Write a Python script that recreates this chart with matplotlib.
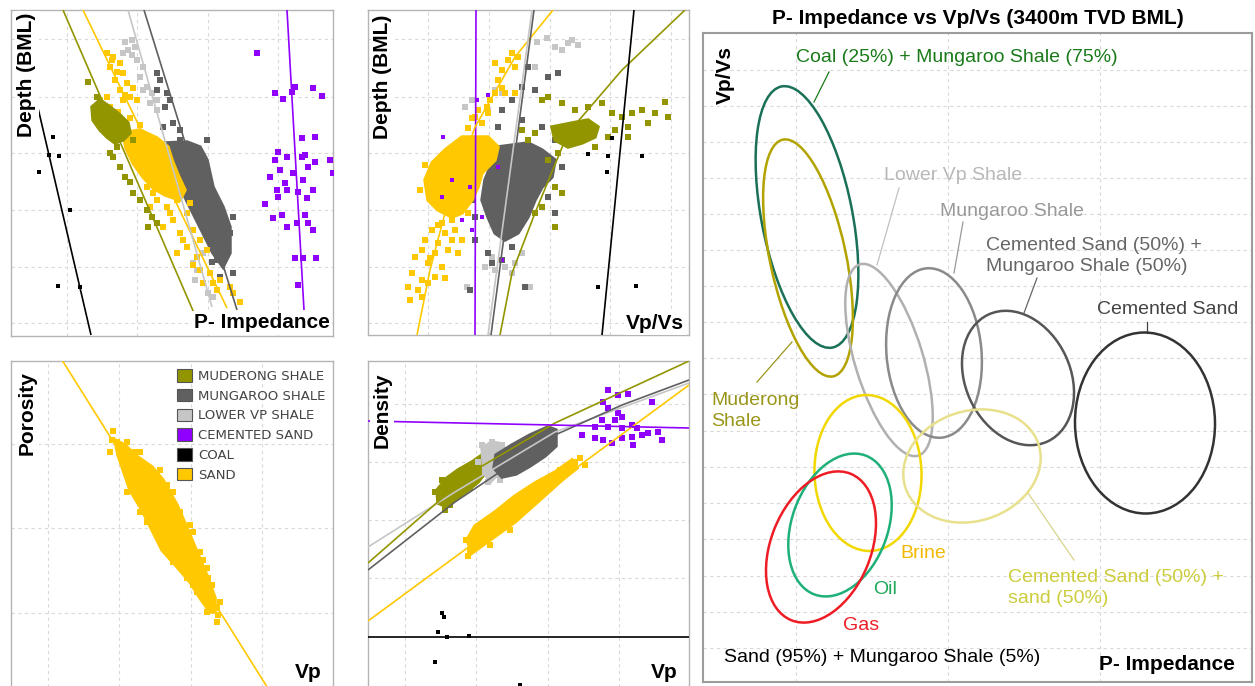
import matplotlib
matplotlib.use("Agg")
import matplotlib.pyplot as plt
from matplotlib.patches import Ellipse, Polygon, Patch

plt.rcParams['font.family'] = ['Liberation Sans', 'DejaVu Sans']

W, H = 1255, 686

# colours of the lithologies
OLIVE = '#939500'
DGREY = '#606060'
LGREY = '#c6c6c6'
PURPLE = '#9000ff'
BLACK = '#000000'
SAND = '#ffc800'

# ---------------------------------------------------------------- panel A
# depth vs P-impedance (no tick labels shown)
A_GRID_X = [67, 137, 208, 278]
A_GRID_Y = [39, 97, 153, 210, 267, 323]
A_COAL_LINE = [(38, 108), (91, 335)]
A_MUD_LINE = [(63, 10), (194, 313)]
A_SAND_LINE = [(83, 10), (227, 308)]
A_LVP_LINE = [(128, 10), (212, 307)]
A_MUNG_LINE = [(144, 10), (237, 310)]
A_CEM_LINE = [(287, 10), (304, 310)]

A_LVP_PTS = [(125, 42), (132, 40), (135, 47), (128, 50), (123, 53), (132, 55), (137, 60),
             (143, 67), (140, 77), (147, 87), (152, 93), (143, 90), (157, 100), (150, 103),
             (157, 110), (193, 263), (197, 270), (203, 253), (208, 293), (213, 297), (195, 280)]
A_MUNG_PTS = [(157, 73), (160, 80), (165, 107), (170, 100), (163, 127), (173, 123), (180, 130),
              (157, 90), (167, 93), (233, 217), (230, 233), (217, 260), (233, 273), (220, 277),
              (180, 140), (207, 140), (225, 245), (212, 262)]
A_MUNG_CORE = [(165, 143), (187, 142), (200, 147), (207, 160), (213, 187), (223, 207), (230, 227),
               (230, 253), (223, 267), (213, 253), (203, 233), (193, 213), (185, 197), (177, 180),
               (168, 163), (163, 152)]
A_SAND_PTS = [(107, 53), (113, 57), (120, 63), (110, 67), (117, 72), (123, 73), (115, 80),
              (127, 83), (120, 90), (133, 88), (130, 97), (137, 100), (123, 100), (107, 97),
              (100, 100), (157, 200), (167, 207), (177, 200), (187, 213), (173, 220), (163, 227),
              (180, 233), (193, 230), (200, 240), (187, 247), (177, 253), (197, 257), (207, 250),
              (200, 270), (210, 273), (220, 280), (203, 283), (217, 290), (230, 287), (233, 293),
              (240, 302), (147, 187), (153, 193), (167, 187), (180, 187), (190, 203), (150, 207),
              (110, 107), (118, 112), (130, 118), (140, 125), (112, 60), (125, 95), (170, 213),
              (183, 240), (193, 265), (213, 283)]
A_SAND_CORE = [(123, 133), (140, 130), (157, 138), (168, 147), (172, 160), (178, 175), (185, 190),
               (180, 200), (165, 195), (153, 188), (143, 177), (133, 163), (126, 148)]
A_MUD_PTS = [(88, 82), (97, 97), (117, 147), (113, 157), (120, 167), (125, 177), (130, 182),
             (133, 193), (140, 200), (147, 210), (152, 217), (157, 223), (148, 227), (120, 133),
             (133, 140), (110, 153)]
A_MUD_CORE = [(92, 107), (100, 100), (110, 107), (120, 115), (128, 123), (130, 133), (123, 140),
              (115, 143), (107, 137), (100, 130), (93, 120)]
A_CEM_PTS = [(257, 53), (275, 93), (283, 99), (292, 92), (295, 87), (313, 88), (322, 96),
             (302, 138), (315, 137), (278, 152), (275, 160), (287, 157), (302, 157), (305, 155),
             (315, 162), (330, 160), (270, 177), (280, 170), (285, 183), (293, 173), (303, 180),
             (308, 167), (313, 190), (278, 197), (287, 190), (298, 192), (307, 198), (265, 204),
             (273, 218), (282, 215), (287, 227), (297, 223), (305, 215), (308, 223), (313, 230),
             (295, 258), (303, 258), (316, 258), (298, 285), (333, 173), (277, 190)]
A_COAL_PTS = [(53, 137), (49, 155), (59, 156), (39, 172), (70, 210), (58, 286), (80, 287)]

# ---------------------------------------------------------------- panel B
# depth vs Vp/Vs
B_GRID_X = [428, 489, 550, 610, 671]
B_GRID_Y = [39, 97, 153, 210, 267, 323]
B_CEM_LINE = [(476, 10), (475, 335)]
B_SAND_LINE = [(553, 10), (515, 57), (475, 127), (445, 213), (430, 270), (417, 335)]
B_LVP_LINE = [(532, 10), (488, 335)]
B_MUNG_LINE = [(534, 10), (491, 335)]
B_MUD_LINE = [(685, 10), (622, 70), (568, 133), (535, 213), (512, 273), (500, 335)]
B_COAL_LINE = [(634, 10), (602, 335)]

B_SAND_PTS = [(512, 53), (518, 57), (508, 60), (515, 67), (495, 63), (502, 70), (498, 80),
              (490, 100), (487, 107), (495, 93), (505, 93), (515, 93), (478, 110), (475, 117),
              (472, 118), (482, 123), (488, 113), (468, 128), (502, 88), (442, 223), (452, 220),
              (432, 230), (445, 233), (425, 240), (438, 243), (452, 240), (422, 250), (435, 253),
              (448, 250), (415, 257), (428, 263), (442, 267), (412, 273), (422, 280), (435, 277),
              (445, 278), (408, 287), (418, 290), (428, 283), (410, 300), (422, 297), (455, 230),
              (462, 240), (458, 253), (468, 213), (425, 165), (420, 190), (438, 225), (430, 258)]
B_SAND_CORE = [(462, 137), (488, 137), (498, 147), (495, 160), (488, 167), (482, 173), (478, 187),
               (472, 200), (462, 213), (452, 217), (438, 210), (428, 200), (425, 180), (432, 163),
               (445, 150)]
B_MUNG_PTS = [(528, 67), (548, 77), (558, 73), (522, 87), (512, 100), (535, 90), (502, 110),
              (522, 120), (542, 127), (555, 140), (562, 167), (548, 197), (555, 213), (472, 190),
              (472, 200), (475, 217), (488, 253), (492, 263), (502, 260), (512, 247), (475, 240),
              (470, 290), (525, 287), (498, 127)]
B_MUNG_CORE = [(498, 147), (528, 143), (542, 150), (555, 160), (552, 177), (542, 187), (535, 200),
               (528, 217), (518, 233), (505, 240), (495, 233), (488, 217), (482, 200), (485, 180),
               (492, 163)]
B_LVP_PTS = [(537, 42), (547, 38), (555, 47), (562, 50), (568, 43), (572, 40), (578, 45),
             (535, 67), (465, 107), (472, 100), (495, 90), (502, 93), (488, 110), (492, 257),
             (495, 270), (505, 267), (512, 273), (515, 263), (485, 267), (522, 253), (467, 287),
             (530, 287)]
B_MUD_PTS = [(542, 100), (548, 97), (562, 103), (575, 110), (588, 107), (602, 103), (612, 113),
             (622, 117), (632, 113), (642, 110), (655, 113), (665, 102), (668, 117), (648, 123),
             (628, 127), (615, 130), (608, 137), (628, 137), (595, 147), (535, 133), (528, 140),
             (558, 153), (548, 160), (555, 187), (562, 193), (542, 207), (535, 213), (555, 227),
             (522, 130)]
B_MUD_CORE = [(552, 127), (572, 123), (588, 120), (598, 127), (595, 137), (582, 143), (568, 147),
              (555, 140)]
B_CEM_PTS = [(443, 137), (477, 100), (488, 95), (452, 180), (442, 197), (462, 220), (472, 230),
             (482, 217), (470, 187), (498, 167), (502, 260)]
B_COAL_PTS = [(612, 138), (588, 154), (608, 156), (642, 156), (607, 172), (598, 287), (636, 286)]

# ---------------------------------------------------------------- panel C
# porosity vs Vp
C_GRID_X = [48, 119, 191, 262]
C_GRID_Y = [444, 528, 613]
C_SAND_LINE = [(62, 360), (269, 690)]
C_SAND_CORE = [(115, 440), (118, 455), (130, 490), (142, 510), (152, 530), (162, 550), (178, 568),
               (190, 582), (200, 598), (210, 612), (215, 612), (215, 598), (208, 578), (197, 552),
               (187, 528), (177, 505), (163, 480), (152, 467), (135, 455), (125, 445)]
C_SAND_PTS = [(113, 431), (117, 442), (110, 452), (120, 455), (130, 455), (135, 452), (127, 492),
              (130, 478), (167, 485), (173, 492), (180, 512), (185, 528), (193, 532), (200, 552),
              (207, 568), (208, 578), (213, 598), (217, 608), (217, 622), (207, 612), (197, 592),
              (193, 585), (187, 578), (173, 562), (167, 548), (157, 535), (147, 522), (140, 512),
              (112, 440), (125, 462), (135, 475), (160, 470), (150, 505), (218, 615), (140, 452),
              (127, 442), (190, 525), (203, 560), (212, 585), (220, 602)]

LEGEND_NAMES = ['MUDERONG SHALE', 'MUNGAROO SHALE', 'LOWER VP SHALE',
                'CEMENTED SAND', 'COAL', 'SAND']
LEGEND_COLORS = [OLIVE, DGREY, LGREY, PURPLE, BLACK, SAND]

# ---------------------------------------------------------------- panel D
# density vs Vp
D_GRID_X = [405, 476, 548, 619]
D_GRID_Y = [404, 462, 520, 578]
D_MUD_LINE = [(368, 563), (472, 472), (555, 423), (689, 361)]
D_MUNG_LINE = [(368, 570), (455, 502), (555, 435), (622, 405), (689, 380)]
D_LVP_LINE = [(368, 547), (455, 492), (555, 432), (689, 383)]
D_SAND_LINE = [(368, 621), (689, 385)]
D_CEM_LINE = [(368, 421), (689, 428)]
D_COAL_LINE = [(368, 637), (689, 637)]

D_MUD_CORE = [(437, 490), (447, 478), (458, 470), (472, 462), (482, 455), (490, 460), (486, 472),
              (478, 482), (466, 492), (455, 500), (445, 506), (438, 503)]
D_MUD_PTS = [(435, 492), (442, 480), (450, 505), (462, 470), (470, 488), (480, 460), (495, 458),
             (445, 510), (440, 498), (458, 495)]
D_LVP_CORE = [(482, 448), (492, 442), (502, 444), (500, 458), (498, 474), (490, 482), (484, 472)]
D_LVP_PTS = [(482, 445), (492, 442), (502, 445), (488, 455), (495, 465), (498, 475), (488, 482),
             (485, 472), (478, 462), (490, 448), (500, 480)]
D_MUNG_CORE = [(496, 455), (512, 445), (530, 435), (548, 427), (556, 430), (556, 446), (545, 456),
               (530, 466), (516, 474), (502, 477), (494, 468)]
D_SAND_CORE = [(467, 540), (475, 526), (495, 512), (515, 496), (535, 483), (555, 472), (572, 460),
               (577, 468), (562, 480), (542, 498), (515, 522), (490, 540), (472, 553)]
D_SAND_PTS = [(470, 550), (466, 540), (480, 530), (500, 512), (515, 510), (545, 485), (560, 470),
              (575, 462), (570, 470), (510, 530), (490, 545), (535, 500), (555, 480), (580, 458),
              (468, 556), (585, 465)]
D_CEM_PTS = [(608, 390), (618, 395), (628, 394), (603, 402), (608, 408), (618, 413), (622, 417),
             (652, 402), (602, 420), (595, 427), (608, 427), (622, 428), (632, 425), (637, 428),
             (642, 435), (582, 435), (595, 438), (603, 440), (612, 443), (622, 438), (633, 445),
             (648, 433), (658, 432), (662, 440), (615, 420), (632, 437)]
D_COAL_PTS = [(442, 613), (444, 617), (438, 632), (447, 637), (469, 636), (435, 662), (520, 685)]

# ---------------------------------------------------------------- right panel
# P-impedance vs Vp/Vs ellipses: centre x, centre y, width, height, tilt
R_GRID_X = [796, 948, 1100]
R_GRID_Y = [70, 106, 142, 178, 214, 250, 286, 322, 358, 394, 431, 467, 503, 539, 576, 612, 648]
ELL_NAMES = ['coal', 'muderong', 'lowervp', 'mungaroo', 'cem_mung', 'cemented',
             'brine', 'cem_sand', 'oil', 'gas']
ELL_X = [807, 808, 889, 934, 1018, 1145, 868, 972, 840, 821]
ELL_Y = [217, 258, 360, 353, 378, 423, 473, 466, 525, 547]
ELL_W = [91, 76, 68, 95, 105, 140, 107, 140, 96, 100]
ELL_H = [266, 242, 200, 170, 140, 181, 156, 110, 148, 158]
ELL_TILT = [11, 12, 17, 5, 25, 1, 2, 18, -20, -22]
ELL_COLORS = ['#1b7058', '#b2a300', '#b0b0b0', '#8a8a8a', '#565656', '#333333',
              '#f2d800', '#e8e08c', '#1fb07a', '#ee1c24']

fig = plt.figure(figsize=(W / 100, H / 100), dpi=100)


def panel(l, r, t, b, edge='#b4b4b4', lw=1.0):
    ax = fig.add_axes([l / W, 1 - b / H, (r - l) / W, (b - t) / H])
    ax.set_xlim(l, r)
    ax.set_ylim(b, t)
    ax.set_xticks([])
    ax.set_yticks([])
    for s in ax.spines.values():
        s.set_color(edge)
        s.set_linewidth(lw)
    return ax


def grid(ax, gx, gy):
    for x in gx:
        ax.axvline(x, color='#d9d9d9', lw=0.8, ls=(0, (3, 3)), zorder=0)
    for y in gy:
        ax.axhline(y, color='#d9d9d9', lw=0.8, ls=(0, (3, 3)), zorder=0)


def line(ax, pts, color, lw=1.2):
    xs, ys = zip(*pts)
    ax.plot(xs, ys, color=color, lw=lw, zorder=4, solid_capstyle='butt')


def pts(ax, p, color, s=13):
    xs, ys = zip(*p)
    ax.scatter(xs, ys, s=s, marker='s', c=color, linewidths=0, zorder=3)


def core(ax, p, color):
    ax.add_patch(Polygon(p, closed=True, fc=color, ec=color, lw=2.5, zorder=3))


def bold_label(ax, x, y, txt, rot=0, ha='center'):
    ax.text(x, y, txt, rotation=rot, ha=ha, va='center', fontsize=15,
            fontweight='bold', zorder=6,
            bbox=dict(fc='white', ec='none', pad=1.5))


# panel A
axa = panel(11, 333, 10, 336)
grid(axa, A_GRID_X, A_GRID_Y)
pts(axa, A_LVP_PTS, LGREY)
core(axa, A_MUNG_CORE, DGREY)
pts(axa, A_MUNG_PTS, DGREY)
core(axa, A_SAND_CORE, SAND)
pts(axa, A_SAND_PTS, SAND)
core(axa, A_MUD_CORE, OLIVE)
pts(axa, A_MUD_PTS, OLIVE)
pts(axa, A_CEM_PTS, PURPLE, s=20)
pts(axa, A_COAL_PTS, BLACK, s=7)
line(axa, A_COAL_LINE, BLACK)
line(axa, A_MUD_LINE, OLIVE)
line(axa, A_SAND_LINE, SAND)
line(axa, A_LVP_LINE, LGREY)
line(axa, A_MUNG_LINE, DGREY)
line(axa, A_CEM_LINE, PURPLE)
bold_label(axa, 27, 75, 'Depth (BML)', rot=90)
bold_label(axa, 330, 323, 'P- Impedance', ha='right')

# panel B
axb = panel(368, 689, 10, 335)
grid(axb, B_GRID_X, B_GRID_Y)
pts(axb, B_LVP_PTS, LGREY)
core(axb, B_MUNG_CORE, DGREY)
pts(axb, B_MUNG_PTS, DGREY)
core(axb, B_SAND_CORE, SAND)
pts(axb, B_SAND_PTS, SAND)
core(axb, B_MUD_CORE, OLIVE)
pts(axb, B_MUD_PTS, OLIVE)
pts(axb, B_CEM_PTS, PURPLE, s=12)
pts(axb, B_COAL_PTS, BLACK, s=7)
line(axb, B_CEM_LINE, PURPLE)
line(axb, B_SAND_LINE, SAND)
line(axb, B_LVP_LINE, LGREY)
line(axb, B_MUNG_LINE, DGREY)
line(axb, B_MUD_LINE, OLIVE)
line(axb, B_COAL_LINE, BLACK)
bold_label(axb, 383, 77, 'Depth (BML)', rot=90)
bold_label(axb, 684, 323, 'Vp/Vs', ha='right')

# panel C
axc = panel(11, 333, 361, 690)
grid(axc, C_GRID_X, C_GRID_Y)
core(axc, C_SAND_CORE, SAND)
pts(axc, C_SAND_PTS, SAND)
line(axc, C_SAND_LINE, SAND)
bold_label(axc, 27, 413, 'Porosity', rot=90)
bold_label(axc, 322, 673, 'Vp', ha='right')
handles = [Patch(fc=c, ec='#555555', lw=0.8) for c in LEGEND_COLORS]
axc.legend(handles, LEGEND_NAMES, loc='upper left', bbox_to_anchor=(177 / W, 1 - 369 / H),
           bbox_transform=fig.transFigure, frameon=False, borderpad=0, borderaxespad=0,
           handlelength=1.1, handleheight=1.1, handletextpad=0.5, labelspacing=0.45,
           prop={'family': 'DejaVu Sans', 'size': 9.5}, labelcolor='#444444')

# panel D
axd = panel(368, 689, 361, 690)
grid(axd, D_GRID_X, D_GRID_Y)
core(axd, D_MUD_CORE, OLIVE)
pts(axd, D_MUD_PTS, OLIVE)
core(axd, D_LVP_CORE, LGREY)
pts(axd, D_LVP_PTS, LGREY)
core(axd, D_MUNG_CORE, DGREY)
core(axd, D_SAND_CORE, SAND)
pts(axd, D_SAND_PTS, SAND)
pts(axd, D_CEM_PTS, PURPLE, s=16)
pts(axd, D_COAL_PTS, BLACK, s=7)
line(axd, D_LVP_LINE, LGREY)
line(axd, D_MUD_LINE, OLIVE)
line(axd, D_MUNG_LINE, DGREY)
line(axd, D_SAND_LINE, SAND)
line(axd, D_CEM_LINE, PURPLE)
line(axd, D_COAL_LINE, BLACK)
bold_label(axd, 382, 410, 'Density', rot=90)
bold_label(axd, 678, 672, 'Vp', ha='right')

# right panel
axr = panel(703, 1252, 33, 682, edge='#9c9c9c', lw=1.5)
grid(axr, R_GRID_X, R_GRID_Y)
for cx, cy, w, h, t, c in zip(ELL_X, ELL_Y, ELL_W, ELL_H, ELL_TILT, ELL_COLORS):
    # y axis runs downward, so a screen tilt to the left is a negative angle here
    axr.add_patch(Ellipse((cx, cy), w, h, angle=-t, fill=False, ec=c, lw=1.8, zorder=3))

fig.text(978 / W, 1 - 18 / H, 'P- Impedance vs Vp/Vs (3400m TVD BML)', ha='center',
         va='center', fontsize=15, fontweight='bold')
axr.text(725, 75, 'Vp/Vs', rotation=90, ha='center', va='center', fontsize=15, fontweight='bold')
axr.text(1235, 665, 'P- Impedance', ha='right', va='center', fontsize=15, fontweight='bold')

LABELS = [
    (796, 57, 'Coal (25%) + Mungaroo Shale (75%)', '#1a7a1a'),
    (884, 175, 'Lower Vp Shale', '#b8b8b8'),
    (940, 211, 'Mungaroo Shale', '#999999'),
    (986, 256, 'Cemented Sand (50%) +\nMungaroo Shale (50%)', '#666666'),
    (1097, 310, 'Cemented Sand', '#444444'),
    (711, 411, 'Muderong\nShale', '#9a961a'),
    (900, 554, 'Brine', '#f5b800'),
    (873, 589, 'Oil', '#1fa85a'),
    (843, 625, 'Gas', '#ee1c24'),
    (1008, 588, 'Cemented Sand (50%) +\nsand (50%)', '#cccc3c'),
    (724, 658, 'Sand (95%) + Mungaroo Shale (5%)', '#000000'),
]
for x, y, txt, c in LABELS:
    axr.text(x, y, txt, ha='left', va='center', fontsize=14, color=c, linespacing=1.25)

LEADERS = [
    ([829, 814], [72, 102], '#1a7a1a'),
    ([899, 877], [188, 265], '#c0c0c0'),
    ([963, 954], [222, 273], '#999999'),
    ([1037, 1024], [278, 313], '#666666'),
    ([1147, 1147], [322, 333], '#444444'),
    ([757, 792], [382, 342], '#9a961a'),
    ([1074, 1028], [560, 493], '#d8d48a'),
]
for xs, ys, c in LEADERS:
    axr.plot(xs, ys, color=c, lw=0.9, zorder=2)

fig.savefig('out.png', dpi=100)
